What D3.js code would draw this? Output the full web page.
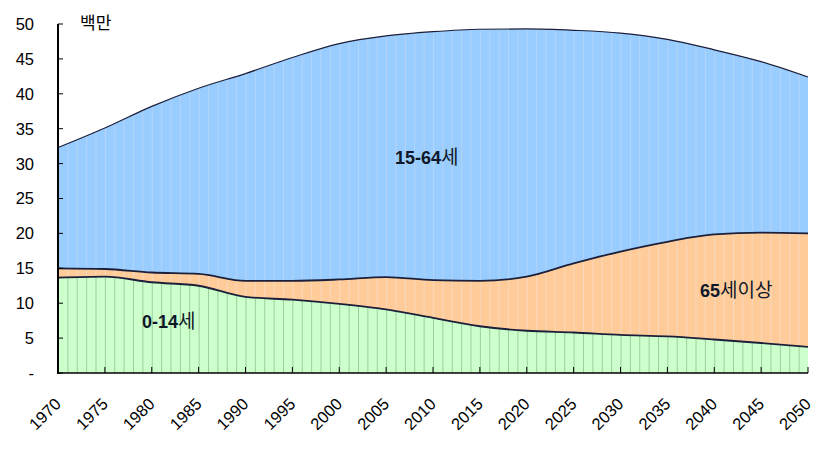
<!DOCTYPE html>
<html>
<head>
<meta charset="utf-8">
<script src="https://cdn.jsdelivr.net/npm/d3@7"></script>
<style>
  html, body { margin: 0; padding: 0; background: #fff; }
  svg { display: block; }
</style>
</head>
<body>
<svg id="chart" width="833" height="455"></svg>
<script>
// ---- data (millions) ----
const years      = [1970, 1975, 1980, 1985, 1990, 1995, 2000, 2005, 2010, 2015, 2020, 2025, 2030, 2035, 2040, 2045, 2050];
const age0_14    = [13.65, 13.8, 13.0, 12.5, 10.9, 10.5, 9.9, 9.1, 7.9, 6.7, 6.05, 5.8, 5.45, 5.25, 4.8, 4.3, 3.75];
const age65plus  = [1.35, 1.1, 1.4, 1.7, 2.3, 2.7, 3.5, 4.65, 5.4, 6.5, 7.75, 9.9, 11.95, 13.55, 15.05, 15.8, 16.25];
const age15_64   = [17.3, 20.2, 23.8, 26.6, 29.7, 32.0, 33.8, 34.55, 35.6, 36.05, 35.5, 33.4, 31.3, 29.0, 26.45, 24.5, 22.4];
const seriesKeys   = ["0-14", "65+", "15-64"];
const seriesLabels = [["0-14", "세"], ["65", "세이상"], ["15-64", "세"]];
const yTicks = [0, 5, 10, 15, 20, 25, 30, 35, 40, 45, 50];
const xTicks = [1970, 1975, 1980, 1985, 1990, 1995, 2000, 2005, 2010, 2015, 2020, 2025, 2030, 2035, 2040, 2045, 2050];
const unitLabel = "백만";

const rows = years.map((y, i) => ({ year: y, "0-14": age0_14[i], "65+": age65plus[i], "15-64": age15_64[i] }));

const fills   = { "0-14": "#CCFFCC", "65+": "#FFCC99", "15-64": "#99CCFF" };
const stripes = { "0-14": "#9ECF9E", "65+": "#F6D8BC", "15-64": "#B4D4F4" };

const svg = d3.select("#chart");
const x = d3.scaleLinear().domain([1970, 2050]).range([58, 808]);
const y = d3.scaleLinear().domain([0, 50]).range([373, 24]);

const stack = d3.stack().keys(seriesKeys);
const stacked = stack(rows);
const curve = d3.curveMonotoneX;

const area = d3.area().x(d => x(d.data.year)).y0(d => y(d[0])).y1(d => y(d[1])).curve(curve);
const line = d3.line().x(d => x(d.data.year)).y(d => y(d[1])).curve(curve);

const defs = svg.append("defs");
stacked.forEach((s, i) => {
  defs.append("clipPath").attr("id", "clip" + i).append("path").attr("d", area(s));
});

// areas
svg.append("g").selectAll("path").data(stacked).join("path")
  .attr("d", area).attr("fill", d => fills[d.key]);

// yearly stripes, clipped to each band
const stripeYears = d3.range(1970, 2051);
stacked.forEach((s, i) => {
  svg.append("g").attr("clip-path", `url(#clip${i})`)
    .selectAll("line").data(stripeYears).join("line")
    .attr("x1", d => x(d) + 0.5).attr("x2", d => x(d) + 0.5)
    .attr("y1", y(50)).attr("y2", y(0))
    .attr("stroke", stripes[s.key]).attr("stroke-width", 1);
});

// boundary lines
svg.append("g").selectAll("path").data(stacked).join("path")
  .attr("d", line).attr("fill", "none")
  .attr("stroke", "#1b1f3a")
  .attr("stroke-width", (d, i) => i === 2 ? 1.2 : 1.8);

// axes
const axisG = svg.append("g");
axisG.append("line").attr("x1", 58).attr("x2", 58).attr("y1", y(50)).attr("y2", y(0) + 1)
  .attr("stroke", "#000").attr("stroke-width", 2);
axisG.append("line").attr("x1", 57).attr("x2", 808).attr("y1", y(0)).attr("y2", y(0))
  .attr("stroke", "#000").attr("stroke-width", 1.5);

// y ticks (inward)
axisG.selectAll(".yt").data(yTicks).join("line").attr("class", "yt")
  .attr("x1", 58).attr("x2", 63).attr("y1", d => y(d)).attr("y2", d => y(d))
  .attr("stroke", "#000").attr("stroke-width", 1);
axisG.selectAll(".yl").data(yTicks).join("text").attr("class", "yl")
  .attr("x", 34).attr("y", d => y(d)).attr("dy", "0.36em")
  .attr("text-anchor", "end")
  .attr("font-family", "'Liberation Sans', Arial, sans-serif")
  .attr("font-size", 16.5).attr("fill", "#000")
  .text(d => d === 0 ? "-" : d);

// x ticks (inward)
axisG.selectAll(".xt").data(xTicks).join("line").attr("class", "xt")
  .attr("x1", d => x(d)).attr("x2", d => x(d)).attr("y1", y(0)).attr("y2", y(0) - 6)
  .attr("stroke", "#000").attr("stroke-width", 1);
axisG.selectAll(".xl").data(xTicks).join("text").attr("class", "xl")
  .attr("transform", d => `translate(${x(d) + 4},405) rotate(-45)`)
  .attr("text-anchor", "end")
  .attr("font-family", "'Liberation Sans', Arial, sans-serif")
  .attr("font-size", 16.5).attr("fill", "#000")
  .text(d => d);

// unit label
svg.append("text").attr("x", 80).attr("y", 29)
  .attr("font-family", "'Noto Sans CJK KR', sans-serif")
  .attr("font-size", 17).attr("fill", "#000")
  .text(unitLabel);

// series labels
const labelPos = [[142, 328], [700, 297], [395, 164]];
seriesLabels.forEach((lab, i) => {
  const t = svg.append("text").attr("x", labelPos[i][0]).attr("y", labelPos[i][1])
    .attr("fill", "#101828");
  t.append("tspan").attr("font-family", "'Liberation Sans', Arial, sans-serif")
    .attr("font-size", 18).attr("font-weight", "bold").text(lab[0]);
  t.append("tspan").attr("font-family", "'Noto Sans CJK KR', sans-serif")
    .attr("font-size", 19).attr("font-weight", "normal").text(lab[1]);
});
</script>
</body>
</html>
